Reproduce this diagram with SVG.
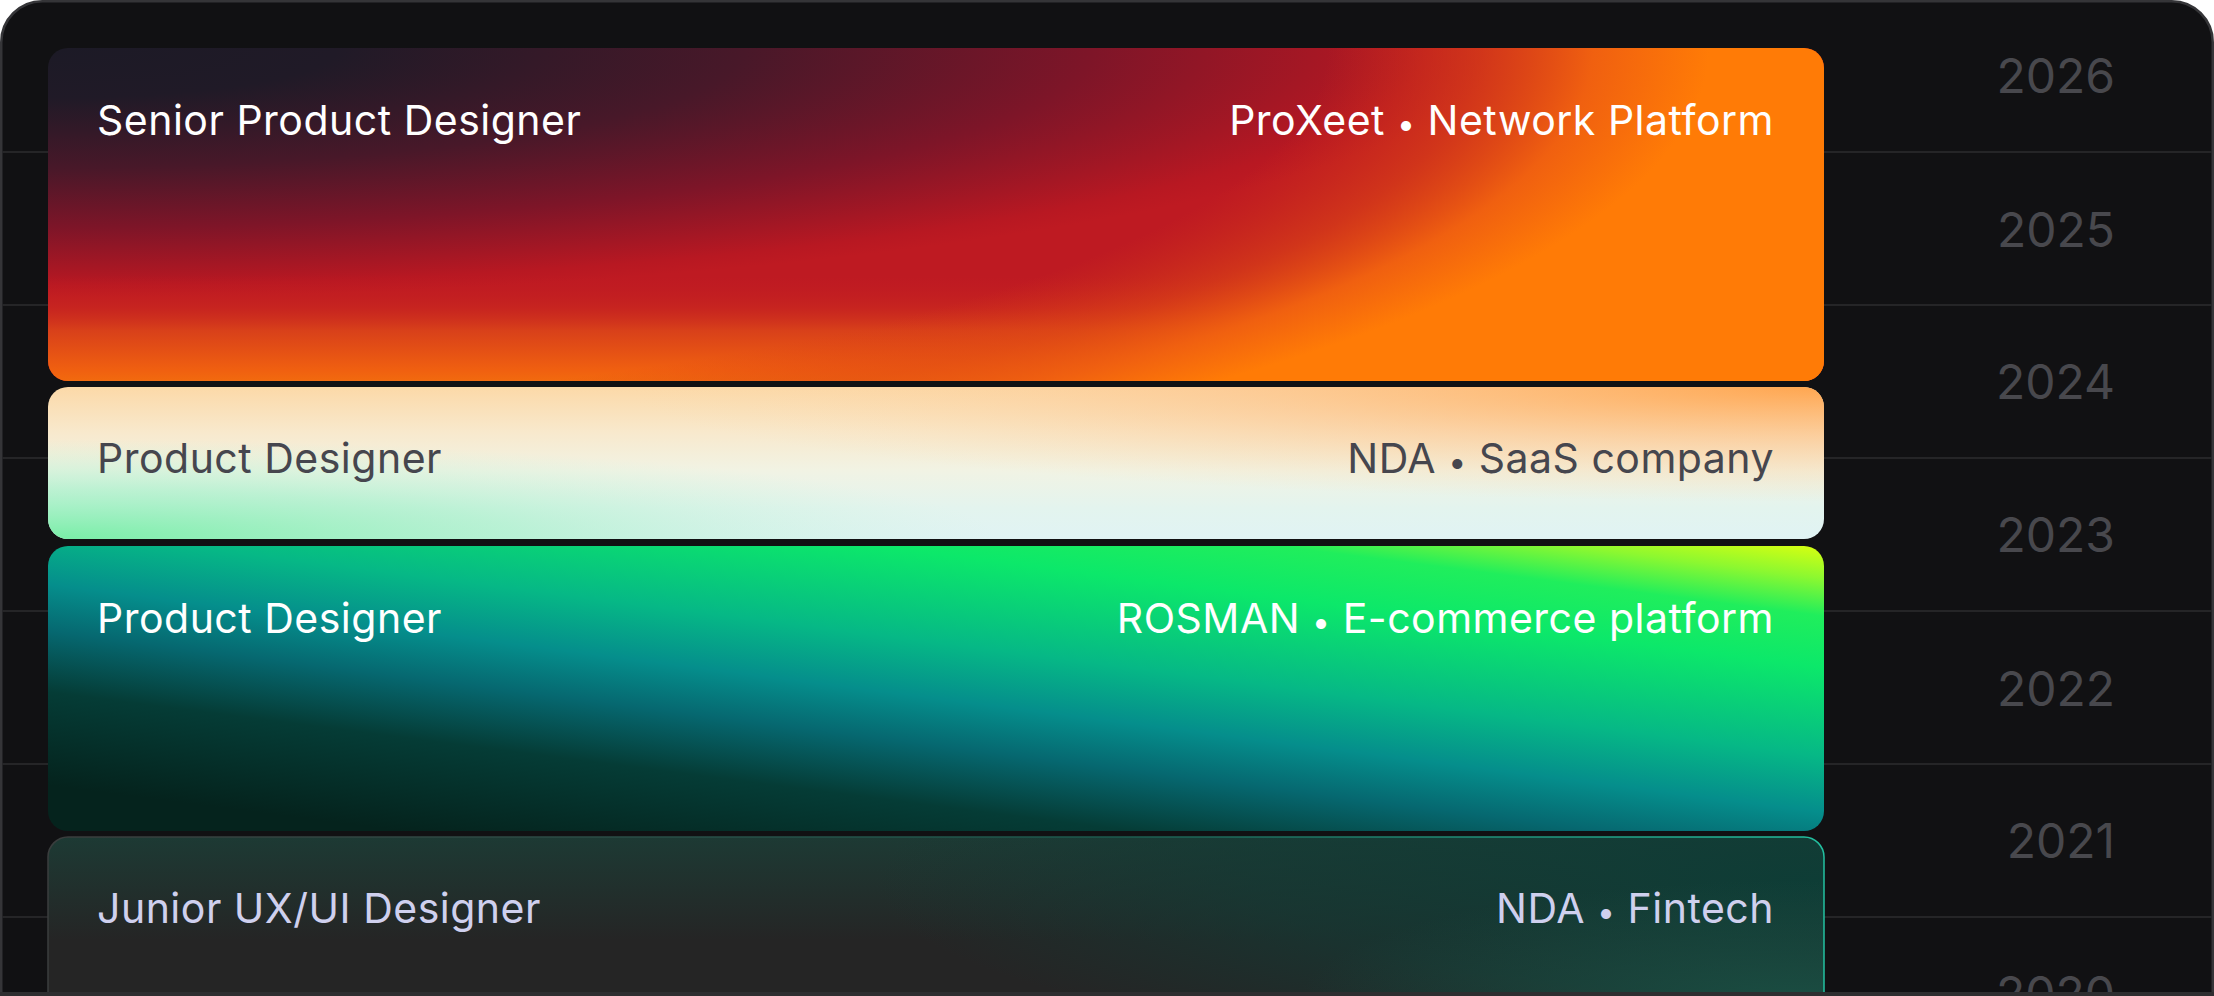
<svg xmlns="http://www.w3.org/2000/svg" width="2214" height="996" viewBox="0 0 2214 996">
<defs>
<style>
.lbl{font-family:Inter,"Noto Sans","Liberation Sans",sans-serif;font-size:41px;letter-spacing:0.5px;}
.end{text-anchor:end;}
.bul{font-size:32px;}
.yr{font-family:Inter,"Noto Sans","Liberation Sans",sans-serif;font-size:48px;fill:#48484d;text-anchor:end;}
.grid{stroke:#2c2c2f;stroke-width:1.5;}
.w{fill:#ffffff;}
.dk{fill:#46464e;}
.lv{fill:#cfd0ee;}
</style>
<radialGradient id="g1" gradientUnits="userSpaceOnUse" cx="0" cy="0" r="1" gradientTransform="translate(48 48) scale(1450 250)">
<stop offset="0" stop-color="#1c1a26"/>
<stop offset="0.2" stop-color="#201a27"/>
<stop offset="0.48" stop-color="#481829"/>
<stop offset="0.72" stop-color="#7e1528"/>
<stop offset="0.95" stop-color="#b81822"/>
<stop offset="1" stop-color="#be1a22"/>
</radialGradient>
<linearGradient id="g1b" gradientUnits="userSpaceOnUse" x1="0" y1="275" x2="0" y2="381">
<stop offset="0" stop-color="#c41c22" stop-opacity="0"/>
<stop offset="0.3" stop-color="#cc2a1e" stop-opacity="0.6"/>
<stop offset="0.52" stop-color="#d8401a" stop-opacity="1"/>
<stop offset="0.9" stop-color="#f06010" stop-opacity="1"/>
<stop offset="1" stop-color="#f26a0e" stop-opacity="1"/>
</linearGradient>
<radialGradient id="g1c" gradientUnits="userSpaceOnUse" cx="0" cy="0" r="1" gradientTransform="translate(48 48) scale(1661 469)">
<stop offset="0" stop-color="#d83a16" stop-opacity="0"/>
<stop offset="0.77" stop-color="#d83a16" stop-opacity="0"/>
<stop offset="0.86" stop-color="#e04a14" stop-opacity="0.55"/>
<stop offset="0.93" stop-color="#f06010" stop-opacity="1"/>
<stop offset="1" stop-color="#ff7b06" stop-opacity="1"/>
</radialGradient>
<linearGradient id="g2" x1="0" y1="0" x2="0" y2="1">
<stop offset="0" stop-color="#fcd9a8"/>
<stop offset="0.3" stop-color="#f8e9cd"/>
<stop offset="0.55" stop-color="#f1f3e4"/>
<stop offset="0.8" stop-color="#e3f4ee"/>
<stop offset="1" stop-color="#e0f3f4"/>
</linearGradient>
<radialGradient id="g2a" gradientUnits="userSpaceOnUse" cx="0" cy="0" r="1" gradientTransform="translate(48 539) scale(950 100)">
<stop offset="0" stop-color="#78eea6" stop-opacity="1"/>
<stop offset="0.5" stop-color="#a4f0c6" stop-opacity="0.65"/>
<stop offset="1" stop-color="#c8f4de" stop-opacity="0"/>
</radialGradient>
<radialGradient id="g2b" gradientUnits="userSpaceOnUse" cx="0" cy="0" r="1" gradientTransform="translate(1824 387) scale(1200 115)">
<stop offset="0" stop-color="#ffa650" stop-opacity="1"/>
<stop offset="0.5" stop-color="#fdc288" stop-opacity="0.55"/>
<stop offset="1" stop-color="#fdd8a8" stop-opacity="0"/>
</radialGradient>
<linearGradient id="g3" x1="1" y1="0" x2="0.2" y2="1">
<stop offset="0" stop-color="#d8ff10"/>
<stop offset="0.07" stop-color="#8cf830"/>
<stop offset="0.15" stop-color="#20ee5c"/>
<stop offset="0.26" stop-color="#0ce86a"/>
<stop offset="0.45" stop-color="#06b886"/>
<stop offset="0.57" stop-color="#058e8c"/>
<stop offset="0.67" stop-color="#066870"/>
<stop offset="0.8" stop-color="#053c36"/>
<stop offset="1" stop-color="#05231d"/>
</linearGradient>
<linearGradient id="g4a" gradientUnits="userSpaceOnUse" x1="0" y1="837" x2="0" y2="940">
<stop offset="0" stop-color="#1d3a34" stop-opacity="1"/>
<stop offset="1" stop-color="#1d3a34" stop-opacity="0"/>
</linearGradient>
<radialGradient id="g4b" gradientUnits="userSpaceOnUse" cx="0" cy="0" r="1" gradientTransform="translate(1824 880) scale(950 190)">
<stop offset="0" stop-color="#0e3d36" stop-opacity="1"/>
<stop offset="0.6" stop-color="#123c36" stop-opacity="0.6"/>
<stop offset="1" stop-color="#123c36" stop-opacity="0"/>
</radialGradient>
<radialGradient id="g4c" gradientUnits="userSpaceOnUse" cx="0" cy="0" r="1" gradientTransform="translate(1800 1000) scale(500 120)">
<stop offset="0" stop-color="#1a5044" stop-opacity="0.9"/>
<stop offset="1" stop-color="#1a5044" stop-opacity="0"/>
</radialGradient>
<linearGradient id="s4" gradientUnits="userSpaceOnUse" x1="48" y1="0" x2="1824" y2="0">
<stop offset="0" stop-color="#3a3d3d"/>
<stop offset="0.6" stop-color="#1b5a4e"/>
<stop offset="1" stop-color="#22c0a0"/>
</linearGradient>
</defs>

<rect width="2214" height="996" fill="#ffffff"/>
<g id="frame">
<rect x="1.25" y="1.25" width="2211.5" height="1040" rx="41" fill="#111113" stroke="#353538" stroke-width="2.5"/>
</g>

<g id="grid">
<line class="grid" x1="2.5" y1="152" x2="2211.5" y2="152"/>
<line class="grid" x1="2.5" y1="305" x2="2211.5" y2="305"/>
<line class="grid" x1="2.5" y1="458" x2="2211.5" y2="458"/>
<line class="grid" x1="2.5" y1="611" x2="2211.5" y2="611"/>
<line class="grid" x1="2.5" y1="764" x2="2211.5" y2="764"/>
<line class="grid" x1="2.5" y1="917" x2="2211.5" y2="917"/>
</g>

<g id="years">
<text class="yr" x="2115" y="93">2026</text>
<text class="yr" x="2115" y="247">2025</text>
<text class="yr" x="2115" y="399">2024</text>
<text class="yr" x="2115" y="552">2023</text>
<text class="yr" x="2115" y="706">2022</text>
<text class="yr" x="2115" y="858">2021</text>
<text class="yr" x="2115" y="1011">2020</text>
</g>

<g id="card-senior">
<rect x="48" y="48" width="1776" height="333" rx="20" fill="url(#g1)"/>
<rect x="48" y="48" width="1776" height="333" rx="20" fill="url(#g1b)"/>
<rect x="48" y="48" width="1776" height="333" rx="20" fill="url(#g1c)"/>
<text class="lbl w" x="97" y="135">Senior Product Designer</text>
<text class="lbl w end" x="1774" y="135">ProXeet <tspan class="bul">•</tspan> Network Platform</text>
</g>

<g id="card-nda-saas">
<rect x="48" y="387" width="1776" height="152" rx="20" fill="url(#g2)"/>
<rect x="48" y="387" width="1776" height="152" rx="20" fill="url(#g2a)"/>
<rect x="48" y="387" width="1776" height="152" rx="20" fill="url(#g2b)"/>
<text class="lbl dk" x="97" y="473">Product Designer</text>
<text class="lbl dk end" x="1774" y="473">NDA <tspan class="bul">•</tspan> SaaS company</text>
</g>

<g id="card-rosman">
<rect x="48" y="546" width="1776" height="285" rx="20" fill="url(#g3)"/>
<text class="lbl w" x="97" y="633">Product Designer</text>
<text class="lbl w end" x="1774" y="633">ROSMAN <tspan class="bul">•</tspan> E-commerce platform</text>
</g>

<g id="card-junior">
<rect x="48" y="837" width="1776" height="220" rx="20" fill="#252525"/>
<rect x="48" y="837" width="1776" height="220" rx="20" fill="url(#g4a)"/>
<rect x="48" y="837" width="1776" height="220" rx="20" fill="url(#g4b)"/>
<rect x="48" y="837" width="1776" height="220" rx="20" fill="url(#g4c)"/>
<rect x="48" y="837" width="1776" height="220" rx="20" fill="none" stroke="url(#s4)" stroke-width="1.5"/>
<text class="lbl lv" x="97" y="923">Junior UX/UI Designer</text>
<text class="lbl lv end" x="1774" y="923">NDA <tspan class="bul">•</tspan> Fintech</text>
</g>

<g id="connectors"/>

<rect x="0" y="992" width="2214" height="4" fill="#2e2e30"/>
</svg>
